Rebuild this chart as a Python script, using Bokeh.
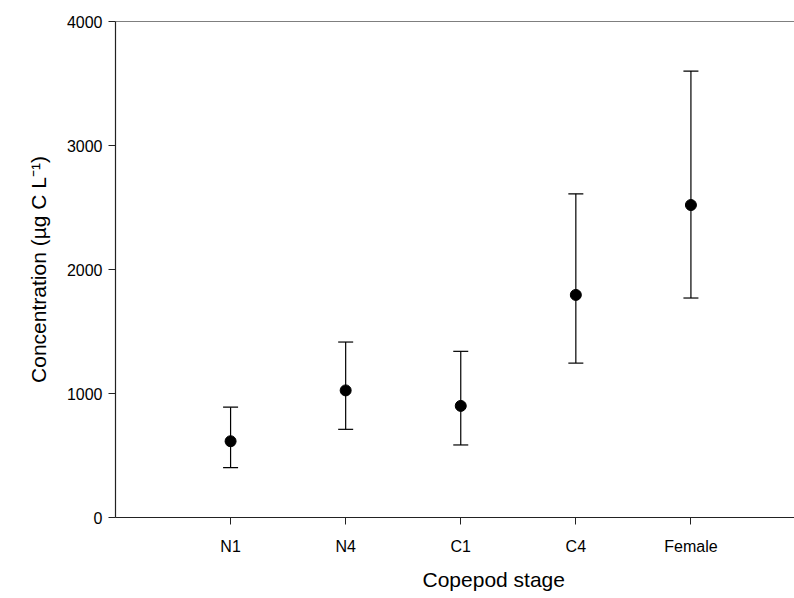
from bokeh.plotting import figure
from bokeh.models import (Range1d, FixedTicker, ColumnDataSource, Whisker,
                          TeeHead, Span, Title)
from bokeh.embed import file_html
from bokeh.resources import INLINE

# Copepod stages and concentration statistics (µg C L-1)
stages = ["N1", "N4", "C1", "C4", "Female"]
mean_conc = [615, 1025, 900, 1795, 2520]
upper_conc = [890, 1415, 1340, 2610, 3600]
lower_conc = [403, 711, 585, 1245, 1770]
y_ticks = [0, 1000, 2000, 3000, 4000]

xpos = list(range(1, len(stages) + 1))
src = ColumnDataSource(dict(x=xpos, y=mean_conc, upper=upper_conc, lower=lower_conc))

FONT = "Liberation Sans"

p = figure(width=794, height=598, output_backend="svg", toolbar_location=None,
           x_range=Range1d(0, 5.9), y_range=Range1d(0, 4000),
           min_border_left=115, min_border_right=0, min_border_top=21,
           min_border_bottom=0)
p.grid.visible = False
p.outline_line_color = None
p.background_fill_color = "white"
p.border_fill_color = "white"

# top frame line
p.add_layout(Span(location=4000, dimension="width", line_color="black", line_width=1))

# error bars with caps
head_u = TeeHead(size=15, line_color="black", line_width=1.2)
head_l = TeeHead(size=15, line_color="black", line_width=1.2)
p.add_layout(Whisker(source=src, base="x", upper="upper", lower="lower",
                     line_color="black", line_width=1.2,
                     upper_head=head_u, lower_head=head_l))

p.scatter("x", "y", source=src, size=11, fill_color="black", line_color="black")

for ax in (p.xaxis[0], p.yaxis[0]):
    ax.axis_line_color = "#222222"
    ax.axis_line_width = 1.2
    ax.major_tick_line_color = "#222222"
    ax.major_tick_in = 0
    ax.major_tick_out = 7
    ax.minor_tick_line_color = None
    ax.major_label_text_font = FONT
    ax.major_label_text_font_size = "16px"
    ax.major_label_text_color = "black"
    ax.axis_label_text_font = FONT
    ax.axis_label_text_font_size = "21px"
    ax.axis_label_text_font_style = "normal"
    ax.axis_label_text_color = "black"

p.xaxis.ticker = FixedTicker(ticks=xpos)
p.xaxis.major_label_overrides = {i: s for i, s in zip(xpos, stages)}
p.xaxis.major_label_standoff = 13

p.yaxis.ticker = FixedTicker(ticks=y_ticks)
p.yaxis.axis_label = "Concentration (\u00b5g C L\u207b\u00b9)"
p.yaxis.major_label_standoff = 6
p.yaxis.axis_label_standoff = 14

# x-axis title below the tick labels
p.add_layout(Title(text="Copepod stage", align="left", offset=307,
                   text_font=FONT, text_font_size="21px", text_font_style="normal",
                   text_color="black", standoff=16), "below")

open("out.html", "w").write(file_html(p, INLINE))
